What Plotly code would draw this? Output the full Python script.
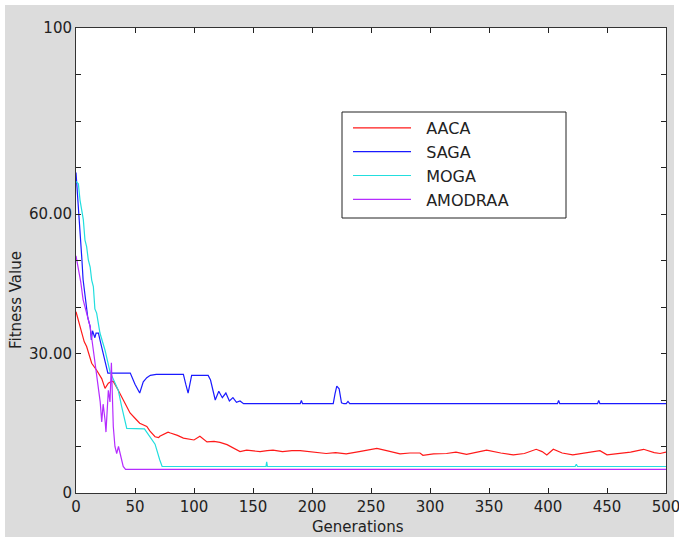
import plotly.graph_objects as go

# ---------------- data ----------------
aaca_x = [0, 2, 4.8, 7, 9, 12, 13.3, 17.5, 20.3, 21.8, 24.6, 27.4, 30, 31.6, 35.8, 41.5, 44, 45.8,
          51.4, 54, 60, 62.7, 67, 70, 71, 78, 80, 86, 91, 100, 105, 111, 117, 122, 128, 134, 139,
          144.6, 150, 156, 162, 167, 175, 183, 190, 200, 212, 220, 229, 240, 255, 265, 274.6, 283,
          291.5, 294, 303, 314, 322, 331, 340, 348, 360, 370.6, 380, 390, 395, 399, 404.5, 412,
          421, 432, 444, 450, 460, 470, 481, 490, 495, 500]
aaca_y = [39.0, 37.3, 34.4, 32.5, 31.5, 29.3, 27.9, 26.4, 25.0, 24.6, 22.5, 23.6, 24.0, 24.0, 22.1,
          19.3, 18.2, 17.2, 15.7, 15.0, 14.3, 13.3, 12.1, 11.9, 12.2, 13.1, 12.9, 12.4, 11.8, 11.4,
          12.2, 11.0, 11.1, 10.9, 10.4, 9.6, 8.9, 9.2, 9.0, 8.9, 9.1, 9.2, 8.9, 9.1, 9.1, 8.8, 8.5,
          8.7, 8.4, 8.9, 9.6, 9.0, 8.4, 8.6, 8.6, 8.1, 8.4, 8.5, 8.8, 8.3, 8.7, 9.2, 8.6, 8.2, 8.5,
          9.4, 8.9, 8.2, 9.4, 8.6, 8.2, 8.6, 9.1, 8.2, 8.5, 8.8, 9.4, 8.7, 8.5, 8.8]

saga_x = [0, 1, 2, 3, 4, 5, 6, 7, 8, 10, 12, 13, 14, 16, 17, 19, 21, 23, 25, 27, 46, 50, 54, 57,
          60, 63, 68, 91, 93, 95, 98, 112, 114, 118, 121, 124, 127, 130, 133, 136, 139, 142, 190,
          191, 192, 218, 219.5, 221, 223, 225, 227, 229, 230.5, 232, 408, 409, 410, 442, 443, 444, 500]
saga_y = [68.9, 65.5, 60.2, 56.9, 54.0, 50.2, 45.9, 43.5, 42.2, 37.7, 35.8, 32.9, 34.9, 33.4, 34.4,
          34.4, 32.2, 30.1, 28.2, 25.8, 25.8, 23.4, 21.5, 23.9, 24.8, 25.3, 25.5, 25.5, 23.4, 21.5,
          25.3, 25.3, 24.3, 20.0, 21.9, 20.5, 21.5, 19.8, 20.5, 19.5, 19.8, 19.2, 19.2, 19.9, 19.2,
          19.2, 21.3, 23.0, 22.4, 19.4, 19.2, 19.2, 19.7, 19.2, 19.2, 19.9, 19.2, 19.2, 19.9, 19.2,
          19.2]

moga_x = [0, 2, 3.4, 5, 6.2, 7.6, 9, 10.4, 12, 13.3, 14.7, 16, 17.5, 20.3, 24.6, 28.8, 32, 35.8,
          38.7, 43, 58, 64, 67, 71, 73, 161, 161.6, 162.2, 423, 424, 425, 500]
moga_y = [67.0, 66.5, 63.0, 60.7, 58.8, 54.4, 53.0, 50.2, 48.6, 45.8, 44.4, 39.6, 38.7, 34.4, 30.7,
          26.1, 24.3, 22.1, 18.6, 13.9, 13.8, 11.4, 10.5, 7.1, 5.7, 5.7, 6.7, 5.7, 5.7, 6.2, 5.7, 5.7]

amod_x = [0, 2, 4, 6, 8, 10, 12, 14.7, 17, 19, 20.5, 21.8, 23, 24.6, 25.4, 27.4, 28.8, 30, 31,
          31.6, 33, 34.5, 36, 37, 40, 42, 500]
amod_y = [51.0, 48.3, 45.4, 41.6, 39.6, 37.2, 35.8, 30.7, 26.4, 23.6, 19.6, 15.3, 19.1, 15.7, 13.1,
          22.1, 19.6, 28.0, 16.7, 14.3, 10.0, 8.5, 10.0, 9.0, 5.7, 5.1, 5.1]

x_ticks = [0, 50, 100, 150, 200, 250, 300, 350, 400, 450, 500]
y_ticks = [0, 10, 20, 30, 40, 50, 60, 70, 80, 90, 100]
y_ticktext = ["0", "", "", "30.00", "", "", "60.00", "", "", "", "100"]

series = [
    ("AACA", aaca_x, aaca_y, "#ff1a1a"),
    ("SAGA", saga_x, saga_y, "#1a1aff"),
    ("MOGA", moga_x, moga_y, "#22dede"),
    ("AMODRAA", amod_x, amod_y, "#b52cff"),
]

FONT = "DejaVu Sans, Arial, sans-serif"
TXT = "#222222"

fig = go.Figure()
for name, xs, ys, col in series:
    fig.add_trace(go.Scatter(x=xs, y=ys, mode="lines", name="\u00a0\u00a0" + name,
                             legendgroup=name, line=dict(color=col, width=1.2)))

L, R, T, B = 76, 13, 28, 49
W, H = 679, 542
pw, ph = W - L - R, H - T - B


def px2x(p):
    return (p - L) / pw


def py2y(p):
    return (H - B - p) / ph


fig.update_layout(
    width=W, height=H,
    margin=dict(l=L, r=R, t=T, b=B, autoexpand=False),
    paper_bgcolor="white",
    plot_bgcolor="white",
    font=dict(family=FONT, size=15, color=TXT),
    showlegend=True,
    legend=dict(x=px2x(348), y=py2y(111), xanchor="left", yanchor="top",
                bgcolor="rgba(0,0,0,0)", borderwidth=0, itemwidth=58,
                tracegroupgap=0, font=dict(family=FONT, size=16, color=TXT)),
    xaxis=dict(range=[0, 500], tickvals=x_ticks, ticks="inside", ticklen=5,
               tickcolor=TXT, showline=True, linecolor="#333333", linewidth=1,
               mirror="ticks", showgrid=False, zeroline=False, ticklabeloverflow="allow",
               automargin=False, tickfont=dict(family=FONT, size=15, color=TXT)),
    yaxis=dict(range=[0, 100], tickvals=y_ticks, ticktext=y_ticktext, ticks="inside",
               ticklen=5, tickcolor=TXT, showline=True, linecolor="#333333", linewidth=1,
               mirror="ticks", showgrid=False, zeroline=False, automargin=False,
               tickfont=dict(family=FONT, size=15, color=TXT)),
    shapes=[
        dict(type="rect", xref="paper", yref="paper", layer="below",
             x0=px2x(5), x1=px2x(674), y0=py2y(537), y1=py2y(5),
             fillcolor="#dcdcdc", line=dict(width=0)),
        dict(type="rect", xref="paper", yref="paper", layer="below",
             x0=0, x1=1, y0=0, y1=1, fillcolor="white", line=dict(width=0)),
        dict(type="rect", xref="paper", yref="paper", layer="above",
             x0=px2x(342), x1=px2x(566), y0=py2y(218), y1=py2y(112),
             fillcolor="rgba(255,255,255,1)", line=dict(color="#222222", width=1)),
    ],
    annotations=[
        dict(text="Fitness Value", xref="paper", yref="paper", x=px2x(16), y=py2y(300),
             textangle=-90, showarrow=False, xanchor="center", yanchor="middle",
             font=dict(family=FONT, size=15, color=TXT)),
        dict(text="Generations", xref="paper", yref="paper", x=px2x(358), y=py2y(527),
             showarrow=False, xanchor="center", yanchor="middle",
             font=dict(family=FONT, size=15, color=TXT)),
    ],
)

fig.write_html("out.html")
